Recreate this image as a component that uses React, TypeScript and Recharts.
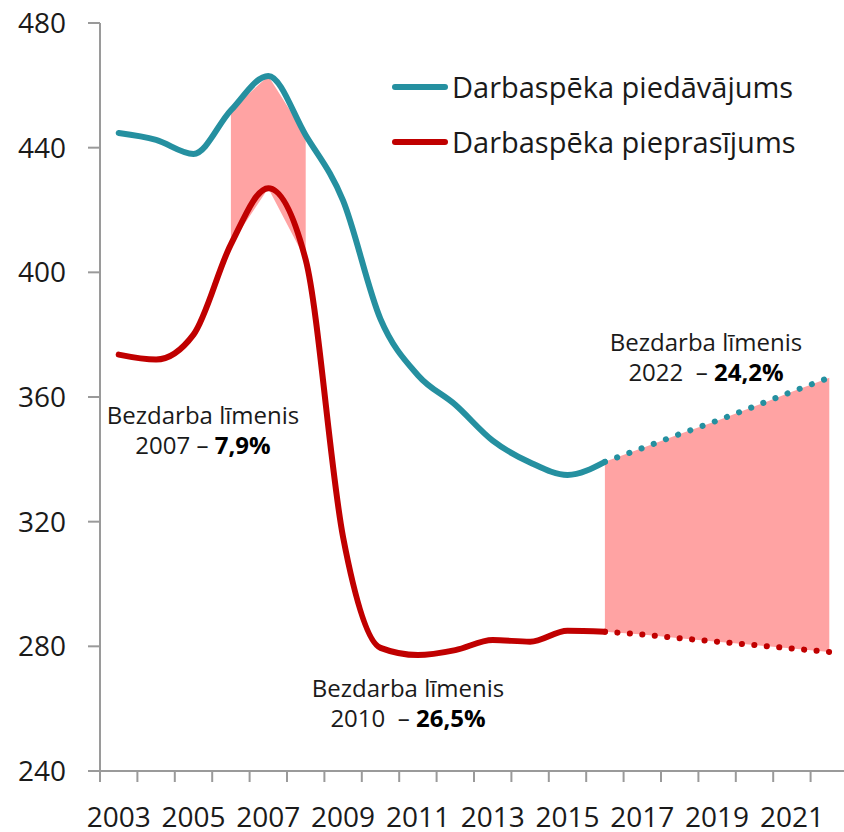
import React from 'react';
import { ComposedChart, Line, Area, XAxis, YAxis, ReferenceLine } from 'recharts';

const years = [
  '2003', '2004', '2005', '2006', '2007', '2008', '2009', '2010', '2011', '2012',
  '2013', '2014', '2015', '2016', '2017', '2018', '2019', '2020', '2021', '2022',
];

// labour supply (thousands), actual and forecast
const supply = [
  444.7, 442.5, 438, 452, 463, 444, 423, 385, 367, 357.5,
  346, 339, 335, 339.2, null, null, null, null, null, null,
];
const supplyForecast = [
  null, null, null, null, null, null, null, null, null, null,
  null, null, null, 339.2, 343.6, 348.1, 352.4, 357.0, 361.7, 366.2,
];

// labour demand (thousands), actual and forecast
const demand = [
  373.6, 372, 380, 409, 427, 404, 315, 279.5, 277.2, 278.8,
  282, 281.5, 285, 284.7, null, null, null, null, null, null,
];
const demandForecast = [
  null, null, null, null, null, null, null, null, null, null,
  null, null, null, 284.7, 283.8, 282.6, 281.5, 280.4, 279.3, 278.2,
];

const earlyGapYears = ['2006', '2007', '2008'];
const yTicks = [240, 280, 320, 360, 400, 440, 480];

const data = years.map((year, i) => ({
  year,
  supply: supply[i],
  supplyForecast: supplyForecast[i],
  demand: demand[i],
  demandForecast: demandForecast[i],
  gapEarly: earlyGapYears.includes(year) ? [demand[i], supply[i]] : null,
  gapLate:
    supplyForecast[i] != null && demandForecast[i] != null
      ? [demandForecast[i], supplyForecast[i]]
      : null,
}));

const BLUE = '#2590A0';
const RED = '#C00000';
const PINK = '#FFA3A3';
const AXIS = '#9A9A9A';
const FONT = '"Open Sans", sans-serif';

const PLOT_W = 748;
const BAND = PLOT_W / years.length;

function YearTick(props: any) {
  const { x, y, payload, index } = props;
  const left = x - BAND / 2;
  return (
    <g>
      <line x1={left} y1={y} x2={left} y2={y + 11} stroke={AXIS} strokeWidth={2} />
      {index === years.length - 1 && (
        <line x1={x + BAND / 2} y1={y} x2={x + BAND / 2} y2={y + 11} stroke={AXIS} strokeWidth={2} />
      )}
      {index % 2 === 0 && (
        <text x={x} y={y + 56} textAnchor="middle" fontSize={28} fill="#1a1a1a" fontFamily={FONT}>
          {payload.value}
        </text>
      )}
    </g>
  );
}

function Note({ x, top, line2, bold }: { x: number; top: number; line2: string; bold: string }) {
  return (
    <div
      style={{
        position: 'absolute',
        left: x,
        top,
        transform: 'translateX(-50%)',
        textAlign: 'center',
        fontSize: 24,
        lineHeight: '30px',
        color: '#1a1a1a',
        whiteSpace: 'pre',
      }}
    >
      <div>Bezdarba līmenis</div>
      <div>
        {line2}
        <b style={{ color: '#000' }}>{bold}</b>
      </div>
    </div>
  );
}

function LegendRow({ color, label }: { color: string; label: string }) {
  return (
    <div style={{ display: 'flex', alignItems: 'center', height: 55 }}>
      <div style={{ width: 56, height: 6, borderRadius: 3, background: color, marginRight: 4 }} />
      <span style={{ fontSize: 29, lineHeight: '55px', color: '#1a1a1a' }}>{label}</span>
    </div>
  );
}

export default function App() {
  return (
    <div
      style={{
        position: 'fixed',
        left: 0,
        top: 0,
        width: 844,
        height: 832,
        overflow: 'hidden',
        background: '#fff',
        fontFamily: FONT,
      }}
    >
      <ComposedChart width={860} height={832} data={data} margin={{ top: 23, right: 12, left: 0, bottom: 0 }}>
        <XAxis
          dataKey="year"
          interval={0}
          height={61}
          padding={{ left: BAND / 2, right: BAND / 2 }}
          tickSize={0}
          tickMargin={0}
          tickLine={false}
          axisLine={{ stroke: AXIS, strokeWidth: 2 }}
          tick={<YearTick />}
        />
        <YAxis
          domain={[240, 480]}
          ticks={yTicks}
          width={100}
          tickSize={12}
          tickMargin={22}
          axisLine={{ stroke: AXIS, strokeWidth: 2 }}
          tickLine={{ stroke: AXIS, strokeWidth: 2 }}
          tick={{ fontSize: 28, fill: '#1a1a1a', fontFamily: FONT }}
        />
        <Area
          dataKey="gapEarly"
          type="linear"
          stroke="none"
          fill={PINK}
          fillOpacity={1}
          isAnimationActive={false}
          activeDot={false}
        />
        <Area
          dataKey="gapLate"
          type="linear"
          stroke="none"
          fill={PINK}
          fillOpacity={1}
          isAnimationActive={false}
          activeDot={false}
        />
        <ReferenceLine
          segment={[{ x: '2003', y: 240 }, { x: '2022', y: 240 }]}
          stroke="#FF0000"
          strokeWidth={2}
        />
        <Line
          dataKey="supply"
          type="monotone"
          stroke={BLUE}
          strokeWidth={6}
          strokeLinecap="round"
          dot={false}
          activeDot={false}
          isAnimationActive={false}
        />
        <Line
          dataKey="demand"
          type="monotone"
          stroke={RED}
          strokeWidth={6}
          strokeLinecap="round"
          dot={false}
          activeDot={false}
          isAnimationActive={false}
        />
        <Line
          dataKey="supplyForecast"
          type="linear"
          stroke={BLUE}
          strokeWidth={6}
          strokeLinecap="round"
          strokeDasharray="0.1 12.9"
          dot={false}
          activeDot={false}
          isAnimationActive={false}
        />
        <Line
          dataKey="demandForecast"
          type="linear"
          stroke={RED}
          strokeWidth={6}
          strokeLinecap="round"
          strokeDasharray="0.1 12.4"
          dot={false}
          activeDot={false}
          isAnimationActive={false}
        />
      </ComposedChart>

      <div style={{ position: 'absolute', left: 392, top: 59 }}>
        <LegendRow color={BLUE} label="Darbaspēka piedāvājums" />
        <LegendRow color={RED} label="Darbaspēka pieprasījums" />
      </div>

      <Note x={203} top={400} line2="2007 – " bold="7,9%" />
      <Note x={408} top={673} line2="2010  – " bold="26,5%" />
      <Note x={706} top={327} line2="2022  – " bold="24,2%" />
    </div>
  );
}
